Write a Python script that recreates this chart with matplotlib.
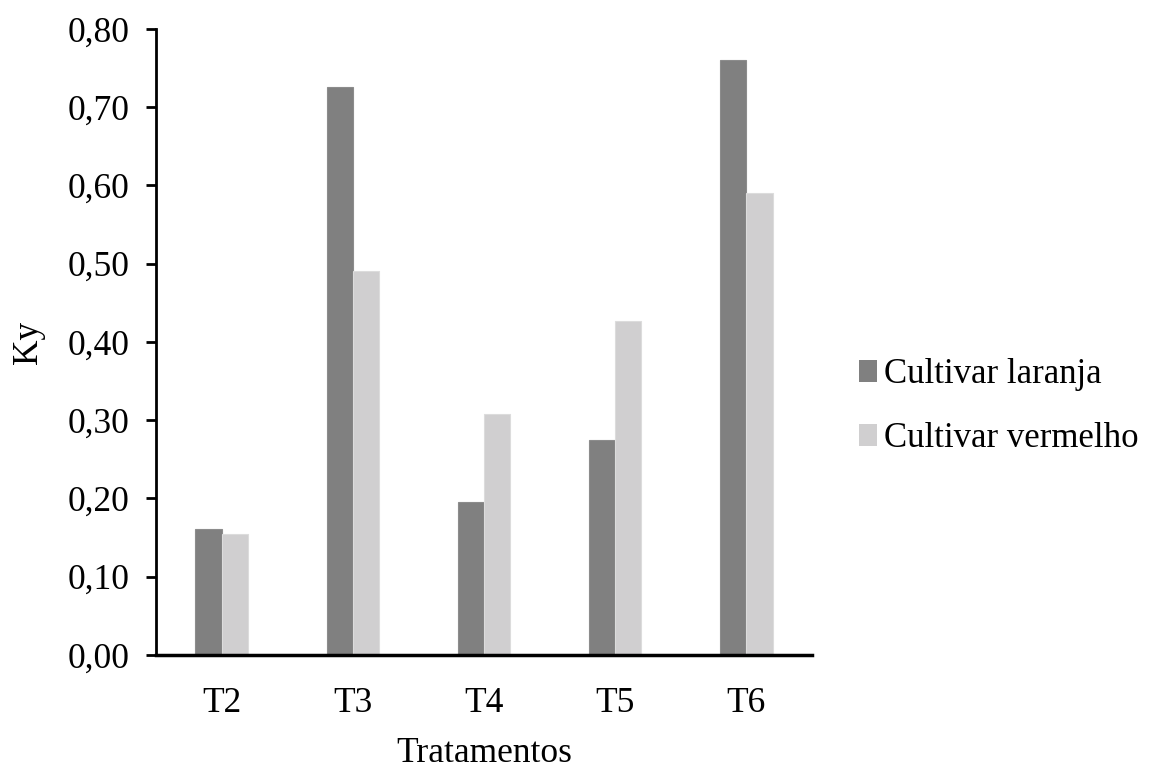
import numpy as np
import matplotlib
matplotlib.use("Agg")
import matplotlib.pyplot as plt
from matplotlib.patches import Patch

# data
categories = ['T2', 'T3', 'T4', 'T5', 'T6']
laranja = [0.161, 0.726, 0.195, 0.275, 0.760]
vermelho = [0.154, 0.491, 0.308, 0.427, 0.590]
series_names = ['Cultivar laranja', 'Cultivar vermelho']
yticks = [0.0, 0.1, 0.2, 0.3, 0.4, 0.5, 0.6, 0.7, 0.8]

DARK = '#808080'
LIGHT = '#d0cfd0'

plt.rcParams['font.family'] = ['Liberation Serif', 'DejaVu Serif']
plt.rcParams['font.size'] = 25.5

fig = plt.figure(figsize=(11.52, 7.72), dpi=100)
ax = fig.add_axes([0.1354, 0.1516, 0.5694, 0.8109])

x = np.arange(len(categories))
w = 0.2
ax.bar(x - w / 2, laranja, width=w, color=DARK, edgecolor='#8c8c8c', linewidth=0.8)
ax.bar(x + w / 2, vermelho, width=w, color=LIGHT, edgecolor='#dcdcdc', linewidth=0.8)

ax.set_xlim(-0.5, len(categories) - 0.5)
ax.set_ylim(0, 0.8)
ax.set_yticks(yticks)
ax.set_yticklabels([f'{v:.2f}'.replace('.', ',') for v in yticks])
ax.set_xticks(x)
ax.set_xticklabels(categories)

for s in ['top', 'right']:
    ax.spines[s].set_visible(False)
ax.spines['left'].set_linewidth(2)
ax.spines['bottom'].set_linewidth(2.5)
ax.tick_params(axis='y', direction='out', length=7, width=2, pad=12)
ax.tick_params(axis='x', length=0, pad=23)

ax.set_ylabel('Ky', labelpad=16)
ax.set_xlabel('Tratamentos', labelpad=12)

handles = [Patch(facecolor=DARK, edgecolor='none'),
           Patch(facecolor=LIGHT, edgecolor='none')]
fig.legend(handles, series_names, loc='center left', bbox_to_anchor=(0.746, 0.473),
           frameon=False, fontsize=25, handlelength=0.5, handleheight=0.6,
           handletextpad=0.2, labelspacing=0.9, borderaxespad=0, borderpad=0)

fig.savefig('out.png', dpi=100)
